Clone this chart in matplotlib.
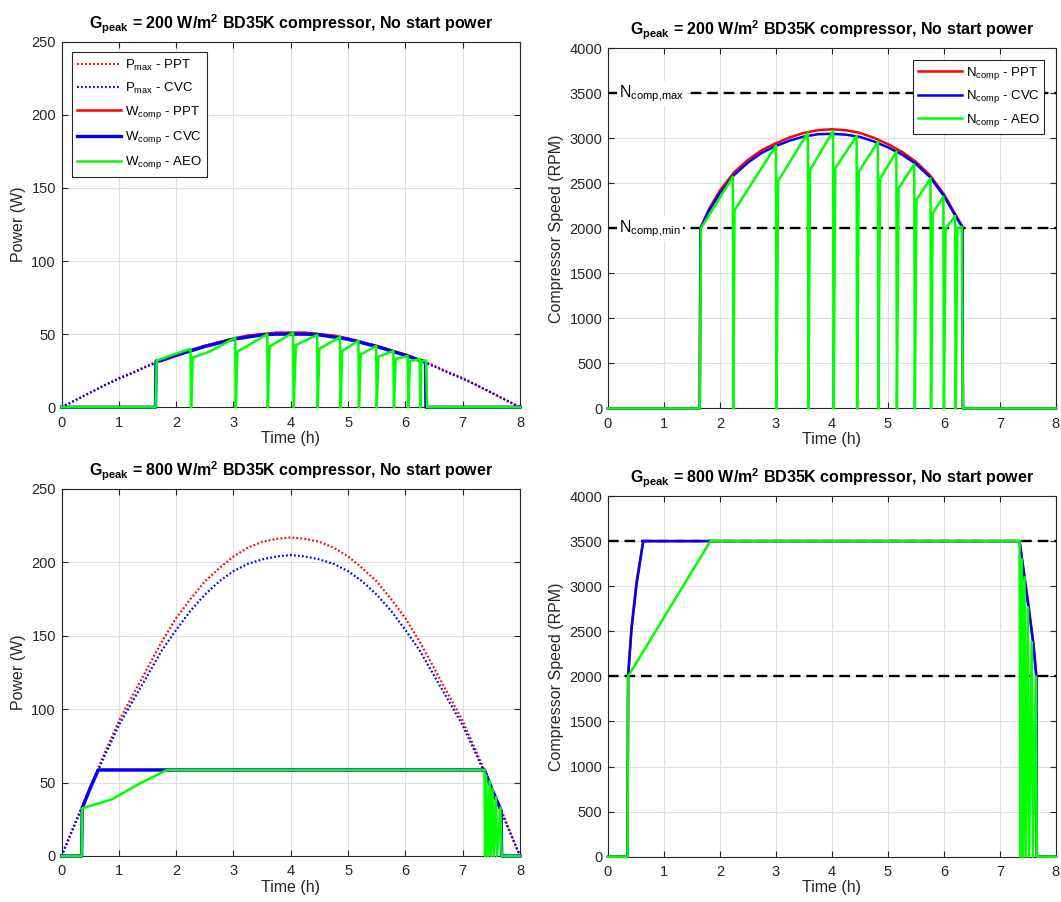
import matplotlib
matplotlib.use("Agg")
import matplotlib.pyplot as plt

plt.rcParams['font.family'] = ['Liberation Sans', 'DejaVu Sans']
plt.rcParams['mathtext.fontset'] = 'custom'
plt.rcParams['mathtext.rm'] = 'Liberation Sans'
plt.rcParams['mathtext.it'] = 'Liberation Sans:italic'
plt.rcParams['mathtext.bf'] = 'Liberation Sans:bold'

# ---- G_peak = 200 W/m2: available power (0.25 h grid) ----
t_pmax = [i * 0.25 for i in range(33)]
pmax_ppt_200 = [0, 5, 10, 15, 20, 24, 28.5, 32.5, 36, 39, 42, 44.5, 47, 49, 50, 51, 51,
                51, 50, 49, 47, 44.5, 42, 39, 36, 32.5, 28.5, 24, 20, 15, 10, 5, 0]
pmax_cvc_200 = [0, 5, 10, 15, 19.5, 23.5, 28, 32, 35.5, 38.5, 41.5, 44, 46.5, 48, 49.5, 50, 50,
                50, 49.5, 48, 46.5, 44, 41.5, 38.5, 35.5, 32, 28, 23.5, 19.5, 15, 10, 5, 0]

# compressor power, PPT / CVC
t_w_200 = [0, 1.64, 1.65, 1.75, 2.0, 2.25, 2.5, 2.75, 3.0, 3.25, 3.5, 3.75, 4.0, 4.25, 4.5,
           4.75, 5.0, 5.25, 5.5, 5.75, 6.0, 6.25, 6.35, 6.36, 8]
w_ppt_200 = [0, 0, 32, 32.5, 36, 39, 42, 44.5, 47, 49, 50, 51, 51, 51, 50,
             49, 47, 44.5, 42, 39, 36, 32.5, 31.5, 0, 0]
w_cvc_200 = [0, 0, 31.5, 32, 35.5, 38.5, 41.5, 44, 46.5, 48, 49.5, 50, 50, 50, 49.5,
             48, 46.5, 44, 41.5, 38.5, 35.5, 32, 31, 0, 0]

# compressor power, AEO (on/off cycling)
t_w_aeo_200 = [0, 1.64, 1.66, 2.25, 2.26, 2.29, 2.58, 3.03, 3.04, 3.07, 3.59, 3.60, 3.63,
               4.04, 4.05, 4.09, 4.46, 4.47, 4.50, 4.86, 4.87, 4.90, 5.18, 5.19, 5.22,
               5.49, 5.50, 5.53, 5.79, 5.80, 5.83, 6.04, 6.05, 6.08, 6.25, 6.26, 6.28,
               6.36, 6.38, 8]
w_aeo_200 = [0, 0, 32, 40, 0, 34, 38, 47.5, 0, 38, 50, 0, 41.5,
             51, 0, 42.5, 49.5, 0, 40, 48, 0, 38.5, 45.5, 0, 36,
             42, 0, 34.5, 38.5, 0, 33, 35, 0, 31.5, 33, 0, 31.5,
             32, 0, 0]

# compressor speed, PPT / CVC
t_n_200 = [0, 1.64, 1.65, 1.8, 2.0, 2.25, 2.5, 2.75, 3.0, 3.25, 3.5, 3.75, 4.0, 4.25, 4.5,
           4.75, 5.0, 5.25, 5.5, 5.75, 6.0, 6.2, 6.33, 6.34, 8]
n_ppt_200 = [0, 0, 2000, 2210, 2420, 2620, 2760, 2870, 2945, 3010, 3060, 3090, 3100, 3090, 3060,
             3005, 2935, 2850, 2740, 2590, 2380, 2160, 2020, 0, 0]
n_cvc_200 = [0, 0, 2000, 2190, 2390, 2590, 2730, 2840, 2915, 2975, 3020, 3045, 3050, 3040, 3015,
             2965, 2900, 2820, 2715, 2570, 2360, 2145, 2010, 0, 0]

# compressor speed, AEO
t_n_aeo_200 = [0, 1.64, 1.66, 2.23, 2.24, 2.26, 3.00, 3.01, 3.04, 3.57, 3.58, 3.61,
               4.02, 4.03, 4.06, 4.44, 4.45, 4.48, 4.82, 4.83, 4.86, 5.15, 5.16, 5.19,
               5.47, 5.48, 5.51, 5.76, 5.77, 5.80, 5.99, 6.00, 6.03, 6.20, 6.21, 6.24,
               6.32, 6.34, 8]
n_aeo_200 = [0, 0, 2000, 2573, 0, 2200, 2918, 0, 2526, 3062, 0, 2648,
             3081, 0, 2667, 3026, 0, 2629, 2962, 0, 2550, 2851, 0, 2444,
             2711, 0, 2314, 2556, 0, 2167, 2351, 0, 2000, 2137, 0, 2000,
             2018, 0, 0]

# ---- G_peak = 800 W/m2 ----
pmax_ppt_800 = [0, 24, 47, 70, 92, 110, 128, 146, 162, 175, 187, 196, 204, 210, 214, 216, 217,
                216, 214, 210, 204, 196, 187, 175, 162, 146, 128, 110, 92, 70, 47, 24, 0]
pmax_cvc_800 = [0, 23, 46, 68, 89, 106, 123, 140, 154, 167, 178, 187, 194, 199, 202, 204, 205,
                204, 202, 199, 194, 187, 178, 167, 154, 140, 123, 106, 89, 68, 46, 23, 0]

t_w_800 = [0, 0.35, 0.36, 0.5, 0.64, 7.38, 7.5, 7.6, 7.67, 7.68, 8]
w_ppt_800 = [0, 0, 33, 47, 58.6, 58.6, 47, 38, 31.5, 0, 0]
w_cvc_800 = [0, 0, 32.5, 46, 58.6, 58.6, 46, 37, 31, 0, 0]

t_w_aeo_800 = [0, 0.35, 0.36, 0.88, 1.37, 1.84, 7.38, 7.39, 7.41, 7.44, 7.47, 7.49,
               7.52, 7.54, 7.58, 7.60, 7.66, 7.68, 8]
w_aeo_800 = [0, 0, 32.5, 38.6, 49.5, 58.6, 58.6, 0, 55, 0, 51, 0,
             46, 0, 40, 0, 33, 0, 0]

t_n_800 = [0, 0.35, 0.36, 0.42, 0.51, 0.63, 7.35, 7.51, 7.60, 7.65, 7.66, 8]
n_ppt_800 = [0, 0, 2000, 2550, 3050, 3500, 3500, 2790, 2360, 2000, 0, 0]
n_cvc_800 = [0, 0, 2000, 2513, 3012, 3500, 3500, 2772, 2340, 2000, 0, 0]

t_n_aeo_800 = [0, 0.35, 0.36, 1.83, 7.35, 7.37, 7.39, 7.41, 7.44, 7.46, 7.50, 7.52,
               7.57, 7.59, 7.64, 7.66, 8]
n_aeo_800 = [0, 0, 2000, 3500, 3500, 0, 3300, 0, 3100, 0, 2770, 0,
             2380, 0, 2000, 0, 0]

n_comp_max = 3500
n_comp_min = 2000

RED, BLUE, GREEN = '#ff0000', '#0000ff', '#00ff00'
AXC = '#262626'
DOTS = (0, (0.8, 1.0))


def style_axes(ax, ymax, ystep, ylabel, title):
    ax.set_xlim(0, 8)
    ax.set_ylim(0, ymax)
    ax.set_xticks(range(0, 9))
    ax.set_yticks(range(0, ymax + 1, ystep))
    ax.grid(True, color='#dedede', linewidth=0.8)
    ax.set_axisbelow(True)
    for s in ax.spines.values():
        s.set_color(AXC)
        s.set_linewidth(0.8)
    ax.tick_params(direction='in', top=True, right=True, length=4, width=0.8,
                   colors=AXC, labelsize=10.5)
    ax.tick_params(axis='x', pad=6)
    ax.tick_params(axis='y', pad=4)
    ax.set_xlabel('Time (h)', fontsize=11.5, color=AXC, labelpad=1)
    ax.set_ylabel(ylabel, fontsize=11.5, color=AXC, labelpad=4)
    ax.set_title(title, fontsize=11.5, fontweight='bold', pad=9)


def power_panel(ax, pmax_ppt, pmax_cvc, t_w, w_ppt, w_cvc, t_aeo, w_aeo, title, legend):
    kw = dict(clip_on=False, zorder=3)
    ax.plot(t_pmax, pmax_ppt, color=RED, linestyle=DOTS, lw=1.6,
            label=r'P$_{\mathrm{max}}$ - PPT', **kw)
    ax.plot(t_pmax, pmax_cvc, color=BLUE, linestyle=DOTS, lw=1.6,
            label=r'P$_{\mathrm{max}}$ - CVC', **kw)
    ax.plot(t_w, w_ppt, color=RED, lw=1.8, label=r'W$_{\mathrm{comp}}$ - PPT', **kw)
    ax.plot(t_w, w_cvc, color=BLUE, lw=2.4, label=r'W$_{\mathrm{comp}}$ - CVC', **kw)
    ax.plot(t_aeo, w_aeo, color=GREEN, lw=1.8, label=r'W$_{\mathrm{comp}}$ - AEO', **kw)
    style_axes(ax, 250, 50, 'Power (W)', title)
    if legend:
        leg = ax.legend(loc='upper left', fontsize=9.5, fancybox=False, framealpha=1,
                        edgecolor=AXC, handlelength=3.3, handletextpad=0.3,
                        labelspacing=0.62, borderaxespad=0.8, borderpad=0.4)
        leg.get_frame().set_linewidth(0.8)
        leg.set_zorder(5)


def speed_panel(ax, t_n, n_ppt, n_cvc, t_aeo, n_aeo, title, legend, labels):
    kw = dict(clip_on=False, zorder=3)
    ax.axhline(n_comp_max, color='black', lw=1.7, linestyle=(0, (4.5, 2.5)), zorder=1.5)
    ax.axhline(n_comp_min, color='black', lw=1.7, linestyle=(0, (4.5, 2.5)), zorder=1.5)
    ax.plot(t_n, n_ppt, color=RED, lw=1.8, label=r'N$_{\mathrm{comp}}$ - PPT', **kw)
    ax.plot(t_n, n_cvc, color=BLUE, lw=1.8, label=r'N$_{\mathrm{comp}}$ - CVC', **kw)
    ax.plot(t_aeo, n_aeo, color=GREEN, lw=1.8, label=r'N$_{\mathrm{comp}}$ - AEO', **kw)
    style_axes(ax, 4000, 500, 'Compressor Speed (RPM)', title)
    if labels:
        box = dict(facecolor='white', edgecolor='none', pad=1.5)
        ax.text(0.2, n_comp_max, r'N$_{\mathrm{comp{,}max}}$', fontsize=11.5, va='center',
                ha='left', bbox=box, zorder=1.8)
        ax.text(0.2, n_comp_min, r'N$_{\mathrm{comp{,}min}}$', fontsize=11.5, va='center',
                ha='left', bbox=box, zorder=1.8)
    if legend:
        leg = ax.legend(loc='upper right', fontsize=9.5, fancybox=False, framealpha=1,
                        edgecolor=AXC, handlelength=3.3, handletextpad=0.3,
                        labelspacing=0.5, borderaxespad=0.9, borderpad=0.35)
        leg.get_frame().set_linewidth(0.8)
        leg.set_zorder(5)


title_200 = r'G$_{\mathbf{peak}}$ = 200 W/m$^{\mathbf{2}}$ BD35K compressor, No start power'
title_800 = r'G$_{\mathbf{peak}}$ = 800 W/m$^{\mathbf{2}}$ BD35K compressor, No start power'

fig = plt.figure(figsize=(10.61, 9.02), dpi=100)
ax1 = fig.add_axes([0.0580, 0.5485, 0.4321, 0.4053])
ax2 = fig.add_axes([0.5730, 0.5472, 0.4222, 0.3993])
ax3 = fig.add_axes([0.0580, 0.0510, 0.4321, 0.4069])
ax4 = fig.add_axes([0.5730, 0.0502, 0.4222, 0.3999])

power_panel(ax1, pmax_ppt_200, pmax_cvc_200, t_w_200, w_ppt_200, w_cvc_200,
            t_w_aeo_200, w_aeo_200, title_200, legend=True)
speed_panel(ax2, t_n_200, n_ppt_200, n_cvc_200, t_n_aeo_200, n_aeo_200,
            title_200, legend=True, labels=True)
power_panel(ax3, pmax_ppt_800, pmax_cvc_800, t_w_800, w_ppt_800, w_cvc_800,
            t_w_aeo_800, w_aeo_800, title_800, legend=False)
speed_panel(ax4, t_n_800, n_ppt_800, n_cvc_800, t_n_aeo_800, n_aeo_800,
            title_800, legend=False, labels=False)

fig.savefig('out.png', dpi=100, facecolor='white')
plt.close(fig)
